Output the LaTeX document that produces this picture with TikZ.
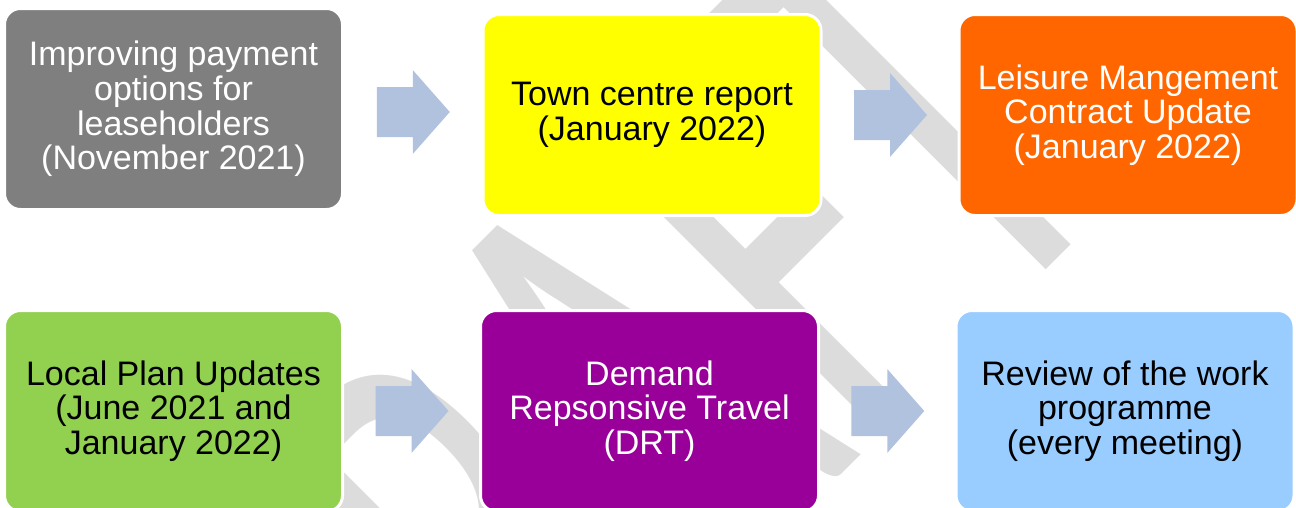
\documentclass[tikz,border=0pt]{standalone}
\usepackage{fontspec}
\setmainfont{Liberation Sans}
\newfontfamily\wmfont{Carlito}
\usetikzlibrary{positioning, calc}
\definecolor{SlateGrey}{HTML}{7F7F7F}
\definecolor{Lemon}{HTML}{FFFF00}
\definecolor{Tangerine}{HTML}{FF6600}
\definecolor{Lime}{HTML}{92D050}
\definecolor{Plum}{HTML}{990099}
\definecolor{SkyBlue}{HTML}{99CCFF}
\definecolor{ArrowBlue}{HTML}{B0C2DE}
\definecolor{Watermark}{HTML}{DCDCDC}
\newcommand{\flowarrow}[1]{%
  \fill[ArrowBlue, shift={(#1)}] (-36,-25) -- (0,-25) -- (0,-42) -- (37,0)
    -- (0,42) -- (0,25) -- (-36,25) -- cycle;}

\begin{document}
\begin{tikzpicture}[x=0.75pt, y=-0.75pt,
    item/.style={rectangle, rounded corners=12pt, minimum width=253.5pt,
                 minimum height=150.75pt, draw=white, line width=2.25pt,
                 align=center, inner sep=0pt,
                 font=\fontsize{25.5}{26}\selectfont}
]
    \useasboundingbox (0,0) rectangle (1296,507);

    % Watermark behind everything
    \begin{scope}[shift={(604,416)}, rotate=45, xscale=0.605]
        \node[transform shape, inner sep=0pt, text=Watermark,
              font=\wmfont\fontsize{490}{490}\selectfont] (draft) at (0,0) {DRAFT};
    \end{scope}

    % Top row
    \node[item, fill=SlateGrey, text=white] (payment) at (173.5,109)
        {Improving payment\\options for\\leaseholders\\(November 2021)};
    \node[item, fill=Lemon] (town) at (652,115)
        {Town centre report\\(January 2022)};
    \node[item, fill=Tangerine, text=white] (leisure) at (1128,115)
        {Leisure Mangement\\Contract Update\\(January 2022)};

    % Bottom row
    \node[item, fill=Lime] (localplan) at (173.5,411)
        {Local Plan Updates\\(June 2021 and\\January 2022)};
    \node[item, fill=Plum, text=white] (drt) at (649.5,411)
        {Demand\\Repsonsive Travel\\(DRT)};
    \node[item, fill=SkyBlue] (review) at (1125,411)
        {Review of the work\\programme\\(every meeting)};

    % Block arrows between the boxes
    \coordinate (a1) at ($(payment.east)!0.5!(town.west)$);
    \coordinate (a2) at ($(town.east)!0.5!(leisure.west)$);
    \coordinate (a3) at ($(localplan.east)!0.5!(drt.west)$);
    \coordinate (a4) at ($(drt.east)!0.5!(review.west)$);
    \flowarrow{a1}
    \flowarrow{a2}
    \flowarrow{a3}
    \flowarrow{a4}
\end{tikzpicture}
\end{document}
